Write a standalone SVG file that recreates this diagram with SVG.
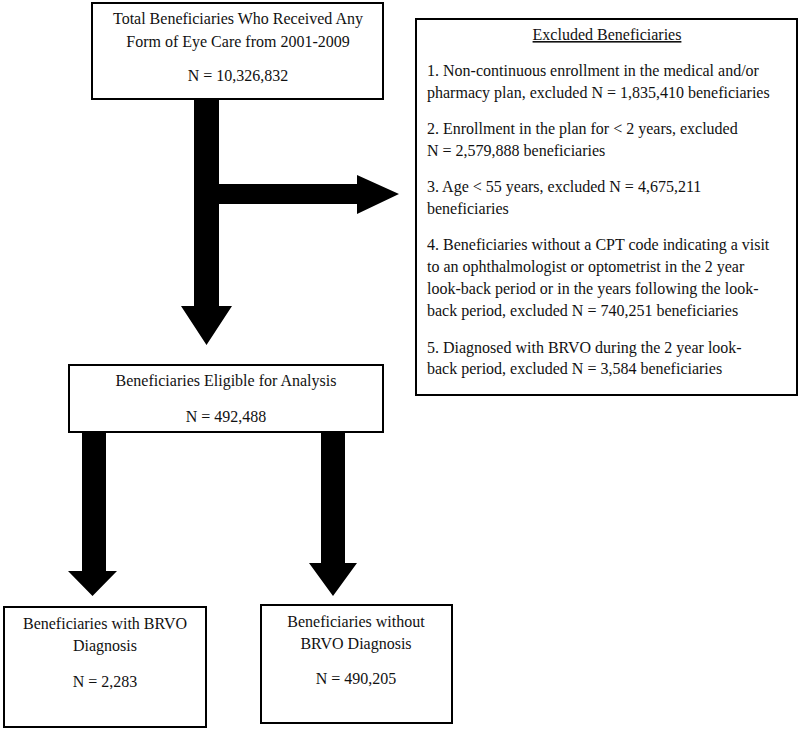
<svg xmlns="http://www.w3.org/2000/svg" width="800" height="731" viewBox="0 0 800 731" font-family="'Liberation Serif', 'Times New Roman', 'DejaVu Serif', serif" font-size="16">
<style>
.box{fill:#fff;stroke:#000;stroke-width:2}
text{font-family:'Liberation Serif','Times New Roman','DejaVu Serif',serif;font-size:16px;fill:#111}
.c{text-anchor:middle}
.arrow{fill:#000}
</style>
<rect width="800" height="731" fill="#fff"/>
<g id="connectors">
<polygon class="arrow" points="194,99 219,99 219,306 232,306 206.5,345 181,306 194,306"/>
<polygon class="arrow" points="219,184 357,184 357,175 399,194 357,214 357,204 219,204"/>
<polygon class="arrow" points="82,432 106,432 106,571 117,571 92.5,596 68,571 82,571"/>
<polygon class="arrow" points="321,432 345,432 345,563 357,563 333,596 309,563 321,563"/>
</g>
<g id="total">
<rect class="box" x="92" y="3" width="291" height="96"/>
<text class="c" x="238" y="24">Total Beneficiaries Who Received Any</text>
<text class="c" x="238" y="47">Form of Eye Care from 2001-2009</text>
<text class="c" x="238" y="81">N = 10,326,832</text>
</g>
<g id="excluded">
<rect class="box" x="416" y="19" width="381" height="376"/>
<text class="c" x="607" y="40" text-decoration="underline">Excluded Beneficiaries</text>
<text x="427" y="76">1. Non-continuous enrollment in the medical and/or</text>
<text x="427" y="98">pharmacy plan, excluded N = 1,835,410 beneficiaries</text>
<text x="427" y="134">2. Enrollment in the plan for &lt; 2 years, excluded</text>
<text x="427" y="156">N = 2,579,888 beneficiaries</text>
<text x="427" y="192">3. Age &lt; 55 years, excluded N = 4,675,211</text>
<text x="427" y="214">beneficiaries</text>
<text x="427" y="250">4. Beneficiaries without a CPT code indicating a visit</text>
<text x="427" y="272">to an ophthalmologist or optometrist in the 2 year</text>
<text x="427" y="294">look-back period or in the years following the look-</text>
<text x="427" y="316">back period, excluded N = 740,251 beneficiaries</text>
<text x="427" y="353">5. Diagnosed with BRVO during the 2 year look-</text>
<text x="427" y="374">back period, excluded N = 3,584 beneficiaries</text>
</g>
<g id="eligible">
<rect class="box" x="69" y="365" width="314" height="67"/>
<text class="c" x="226" y="386">Beneficiaries Eligible for Analysis</text>
<text class="c" x="226" y="422">N = 492,488</text>
</g>
<g id="with-brvo">
<rect class="box" x="4" y="607" width="202" height="120"/>
<text class="c" x="105" y="629">Beneficiaries with BRVO</text>
<text class="c" x="105" y="651">Diagnosis</text>
<text class="c" x="105" y="687">N = 2,283</text>
</g>
<g id="without-brvo">
<rect class="box" x="261" y="605" width="191" height="118"/>
<text class="c" x="356" y="627">Beneficiaries without</text>
<text class="c" x="356" y="649">BRVO Diagnosis</text>
<text class="c" x="356" y="684">N = 490,205</text>
</g>
</svg>
